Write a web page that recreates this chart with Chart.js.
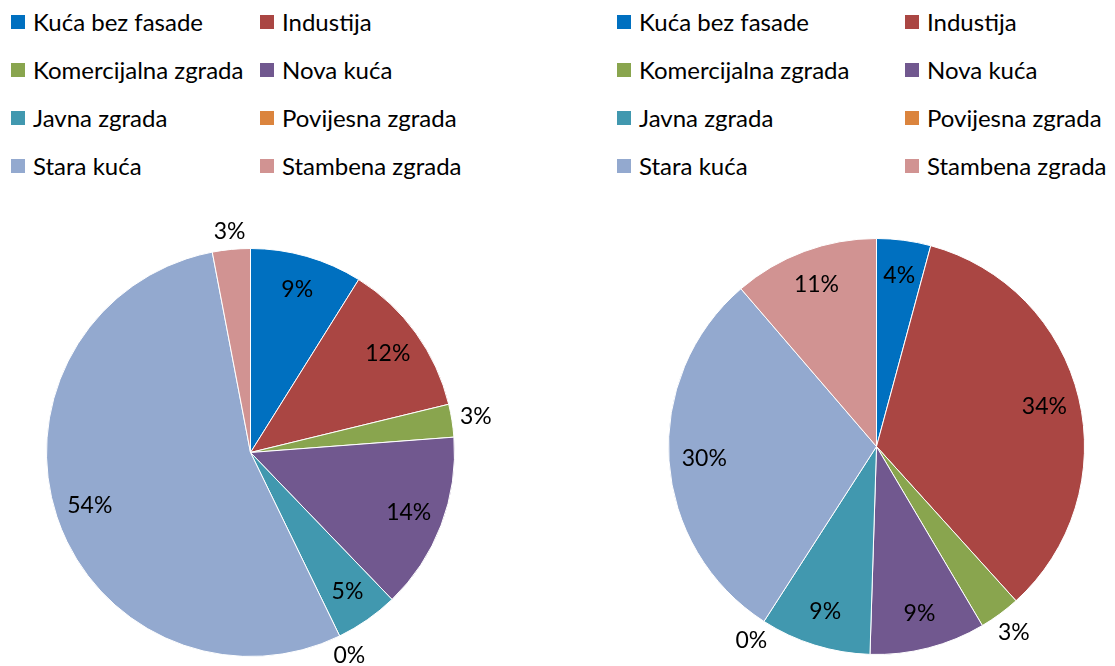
<!DOCTYPE html>
<html>
<head>
<meta charset="utf-8">
<script src="https://cdn.jsdelivr.net/npm/chart.js@4"></script>
<style>
body{margin:0;background:#fff;width:1115px;height:666px;position:relative;overflow:hidden;font-family:Lato,sans-serif}
.stavka{position:absolute;height:24px;line-height:24px;font-size:24px;color:#000;white-space:nowrap;display:flex;align-items:center}
.kvadrat{width:14px;height:14px;margin-right:8px;flex:none}
canvas{position:absolute}
</style>
</head>
<body>
<div id="legendaLijevo"></div>
<div id="legendaDesno"></div>
<canvas id="pitaLijevo" width="557" height="466" style="left:0;top:200px"></canvas>
<canvas id="pitaDesno" width="558" height="476" style="left:557px;top:190px"></canvas>
<script>
// podaci

const kategorije = ["Kuća bez fasade", "Industija", "Komercijalna zgrada", "Nova kuća", "Javna zgrada", "Povijesna zgrada", "Stara kuća", "Stambena zgrada"];
const boje = ["#0070C0", "#AA4643", "#89A54E", "#71588F", "#4198AF", "#DB843D", "#93A9CF", "#D19392"];
const udjeliLijevo = [8.9, 12.3, 2.6, 14.0, 5.0, 0, 54.2, 3.0];
const udjeliDesno = [4.2, 34.1, 3.2, 9.0, 8.6, 0, 29.6, 11.3];

// oznake postotaka

const oznakePlugin = {
    id: "oznake",
    afterDatasetsDraw(chart) {
        const ctx = chart.ctx;
        const meta = chart.getDatasetMeta(0);
        const podaci = chart.data.datasets[0].data;
        const ukupno = podaci.reduce((a, b) => a + b, 0);
        ctx.save();
        ctx.font = "23px Lato";
        ctx.fillStyle = "#000";
        ctx.textAlign = "center";
        ctx.textBaseline = "middle";
        meta.data.forEach((luk, i) => {
            const p = luk.getProps(["x", "y", "startAngle", "endAngle", "outerRadius"], true);
            const pct = podaci[i] / ukupno * 100;
            const tekst = Math.round(pct) + "%";
            const kut = (p.startAngle + p.endAngle) / 2;
            const c = Math.cos(kut), s = Math.sin(kut);
            let r;
            if (pct >= 4) {
                r = p.outerRadius * 0.83;
            } else {
                const sirina = ctx.measureText(tekst).width;
                r = p.outerRadius + 7 + sirina / 2 * Math.abs(c) + 9 * Math.abs(s);
            }
            ctx.fillText(tekst, p.x + c * r, p.y + s * r);
        });
        ctx.restore();
    }
};

function nacrtajPitu(id, udjeli, padding) {
    return new Chart(document.getElementById(id), {
        type: "pie",
        data: {
            labels: kategorije,
            datasets: [{
                data: udjeli,
                backgroundColor: boje,
                borderColor: "#fff",
                borderWidth: 1
            }]
        },
        options: {
            responsive: false,
            animation: false,
            layout: { padding: padding },
            plugins: {
                legend: { display: false },
                tooltip: { enabled: false }
            }
        },
        plugins: [oznakePlugin]
    });
}

// legenda u dva stupca

function nacrtajLegendu(id, chart, stupci) {
    const redovi = [22, 70, 118, 166];
    let html = "";
    chart.data.labels.forEach((naziv, i) => {
        const x = stupci[i % 2];
        const y = redovi[Math.floor(i / 2)] - 12;
        html += '<div class="stavka" style="left:' + x + 'px;top:' + y + 'px">';
        html += '<span class="kvadrat" style="background:' + chart.data.datasets[0].backgroundColor[i] + '"></span>' + naziv + '</div>';
    });
    document.getElementById(id).innerHTML = html;
}

var lijevo = nacrtajPitu("pitaLijevo", udjeliLijevo, { left: 46, top: 48, right: 102, bottom: 9 });
var desno = nacrtajPitu("pitaDesno", udjeliDesno, { left: 111, top: 48, right: 30, bottom: 11 });

nacrtajLegendu("legendaLijevo", lijevo, [11, 260]);
nacrtajLegendu("legendaDesno", desno, [617, 905]);
</script>
</body>
</html>
